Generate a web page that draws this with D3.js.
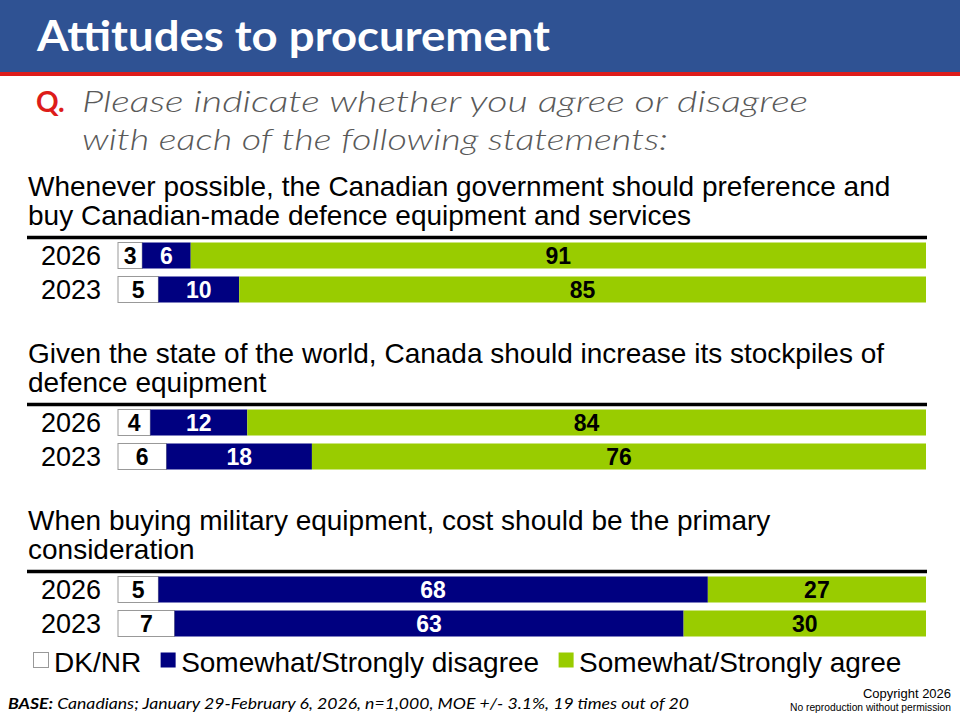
<!DOCTYPE html>
<html>
<head>
<meta charset="utf-8">
<script src="https://cdn.jsdelivr.net/npm/d3@7"></script>
<style>
  body { margin: 0; background: #fff; }
  svg { display: block; }
</style>
</head>
<body>
<div id="chart"></div>
<script>
// data
var statements = [
  ["Whenever possible, the Canadian government should preference and", "buy Canadian-made defence equipment and services"],
  ["Given the state of the world, Canada should increase its stockpiles of", "defence equipment"],
  ["When buying military equipment, cost should be the primary", "consideration"]
];
var years = ["2026", "2023"];
var dknr     = [[3, 5], [4, 6], [5, 7]];
var disagree = [[6, 10], [12, 18], [68, 63]];
var agree    = [[91, 85], [84, 76], [27, 30]];
var seriesNames = ["DK/NR", "Somewhat/Strongly disagree", "Somewhat/Strongly agree"];

var width = 960, height = 720;
var colors = ["#ffffff", "#000080", "#99cc00"];
var labelColors = ["#000", "#fff", "#000"];
var arial = "'Liberation Sans', Arial, sans-serif";

var svg = d3.select("#chart").append("svg")
    .attr("width", width)
    .attr("height", height);

// header band
svg.append("rect").attr("x", 0).attr("y", 0).attr("width", width).attr("height", 72)
    .attr("fill", "#2f5293");
svg.append("rect").attr("x", 0).attr("y", 72).attr("width", width).attr("height", 4)
    .attr("fill", "#dd1c1a");
svg.append("text")
    .attr("x", 37).attr("y", 51)
    .attr("fill", "#fff")
    .style("font-family", "Lato, 'Open Sans', sans-serif")
    .style("font-weight", "bold")
    .style("font-size", "42px")
    .attr("textLength", 513)
    .attr("lengthAdjust", "spacingAndGlyphs")
    .text("Attitudes to procurement");

// question
svg.append("text")
    .attr("x", 36).attr("y", 112)
    .attr("fill", "#dd1c1a")
    .style("font-family", "Lato, sans-serif")
    .style("font-weight", "bold")
    .style("font-size", "28px")
    .text("Q.");
var qLines = ["Please indicate whether you agree or disagree", "with each of the following statements:"];
var qWidths = [726, 586];
svg.selectAll(".q").data(qLines).enter().append("text")
    .attr("class", "q")
    .attr("x", 82)
    .attr("y", function(d, i) { return 112 + i * 38; })
    .attr("fill", "#595959")
    .style("font-family", "Lato, sans-serif")
    .style("font-style", "italic")
    .style("font-weight", 300)
    .style("font-size", "30px")
    .attr("textLength", function(d, i) { return qWidths[i]; })
    .attr("lengthAdjust", "spacingAndGlyphs")
    .text(function(d) { return d; });

// scales
var x = d3.scaleLinear().domain([0, 100]).range([118, 926]);
var groupTop = [237.5, 404.5, 571.5];
var y = d3.scaleBand().domain(years).range([0, 60]).paddingInner(0.235).paddingOuter(0);

statements.forEach(function(lines, gi) {
  var g = svg.append("g").attr("transform", "translate(0," + groupTop[gi] + ")");

  g.selectAll(".title").data(lines).enter().append("text")
      .attr("x", 28)
      .attr("y", function(d, i) { return -42 + i * 29; })
      .style("font-family", arial)
      .style("font-size", "28px")
      .attr("fill", "#000")
      .text(function(d) { return d; });

  g.append("line")
      .attr("x1", 27).attr("x2", 927)
      .attr("y1", 0).attr("y2", 0)
      .attr("stroke", "#000").attr("stroke-width", 3.5);

  var rows = years.map(function(yr, yi) {
    var vals = [dknr[gi][yi], disagree[gi][yi], agree[gi][yi]];
    var acc = 0;
    return {
      year: yr,
      segs: vals.map(function(v, k) {
        var s = {k: k, v: v, x0: acc, x1: acc + v};
        acc += v;
        return s;
      })
    };
  });

  var row = g.selectAll(".row").data(rows).enter().append("g")
      .attr("transform", function(d) { return "translate(0," + (5 + y(d.year)) + ")"; });

  row.append("text")
      .attr("x", 101)
      .attr("y", y.bandwidth() / 2 + 9.5)
      .attr("text-anchor", "end")
      .style("font-family", arial)
      .style("font-size", "27px")
      .text(function(d) { return d.year; });

  row.selectAll("rect").data(function(d) { return d.segs; }).enter().append("rect")
      .attr("x", function(d) { return x(d.x0); })
      .attr("width", function(d) { return x(d.x1) - x(d.x0); })
      .attr("height", y.bandwidth())
      .attr("fill", function(d) { return colors[d.k]; })
      .attr("stroke", function(d) { return d.k === 0 ? "#999" : "none"; })
      .attr("stroke-width", 1);

  row.selectAll(".val").data(function(d) { return d.segs; }).enter().append("text")
      .attr("class", "val")
      .attr("x", function(d) { return (x(d.x0) + x(d.x1)) / 2; })
      .attr("y", y.bandwidth() / 2 + 8.5)
      .attr("text-anchor", "middle")
      .style("font-family", arial)
      .style("font-weight", "bold")
      .style("font-size", "23px")
      .attr("fill", function(d) { return labelColors[d.k]; })
      .text(function(d) { return d.v; });
});

// legend
var lx = 33;
seriesNames.forEach(function(name, i) {
  svg.append("rect")
      .attr("x", lx + 0.5).attr("y", 652.5)
      .attr("width", 15).attr("height", 15)
      .attr("fill", colors[i])
      .attr("stroke", i === 0 ? "#999" : "none");
  var t = svg.append("text")
      .attr("x", lx + 21).attr("y", 672)
      .style("font-family", arial)
      .style("font-size", "28px")
      .text(name);
  lx += 21 + t.node().getComputedTextLength() + 19;
});

// footer
var foot = svg.append("text")
    .attr("x", 8).attr("y", 709)
    .style("font-family", "Lato, sans-serif")
    .style("font-style", "italic")
    .style("font-size", "16px")
    .attr("fill", "#000")
    .attr("textLength", 681)
    .attr("lengthAdjust", "spacingAndGlyphs");
foot.append("tspan").style("font-weight", "bold").text("BASE:");
foot.append("tspan").text(" Canadians; January 29-February 6, 2026, n=1,000, MOE +/- 3.1%, 19 times out of 20");

svg.append("text")
    .attr("x", 951).attr("y", 698)
    .attr("text-anchor", "end")
    .style("font-family", "'Liberation Sans Narrow', 'Liberation Sans', sans-serif")
    .style("font-size", "13px")
    .attr("textLength", 88)
    .attr("lengthAdjust", "spacingAndGlyphs")
    .text("Copyright 2026");
svg.append("text")
    .attr("x", 951).attr("y", 711)
    .attr("text-anchor", "end")
    .style("font-family", "'Liberation Sans Narrow', 'Liberation Sans', sans-serif")
    .style("font-size", "10px")
    .attr("textLength", 161)
    .attr("lengthAdjust", "spacingAndGlyphs")
    .text("No reproduction without permission");
</script>
</body>
</html>
